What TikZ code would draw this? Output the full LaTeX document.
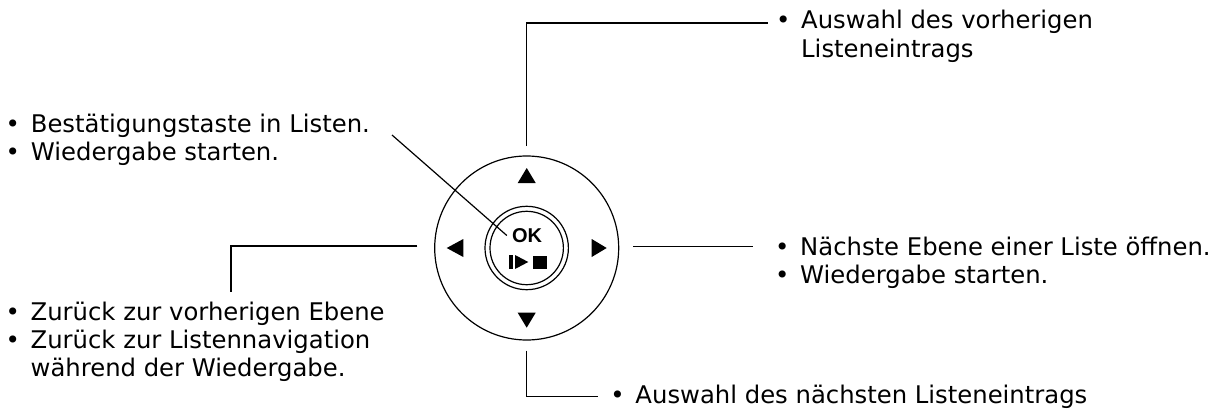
\documentclass[tikz,border=0pt]{standalone}
\usepackage{fontspec}
\setmainfont{DejaVu Sans}
\newfontfamily\okfont{Liberation Sans}
\newcommand\bul{\makebox[0pt][c]{•}\hspace{18pt}}
\newcommand\ind{\hspace{18pt}}
\begin{document}
\begin{tikzpicture}[x=1pt,y=-1pt,
  lbl/.style={anchor=base west, inner sep=0pt, font=\fontsize{24.3}{28.3}\selectfont},
  conn/.style={line width=1.2pt},
  ring/.style={circle, draw, inner sep=0pt, line width=1.2pt},
  tri/.style={fill=black, draw=none}]
\useasboundingbox (0,0) rectangle (1226,409);
% pad
\node[ring, minimum size=184pt] (pad) at (526.7,248) {};
\node[ring, minimum size=83.4pt] (okring) at (526.7,248) {};
\node[ring, minimum size=73.4pt] (okbtn) at (526.7,248) {};
\node[inner sep=0pt, font=\okfont\bfseries\fontsize{20}{20}\selectfont] (ok) at (527,235.5) {OK};
% play/stop symbols
\fill (509.3,255) rectangle (513.3,269);
\fill (515,255) -- (515,269) -- (528.3,262) -- cycle;
\fill (532.7,255.5) rectangle (546.7,269);
% direction triangles
\fill[tri] (526.7,168) -- (517.7,183) -- (535.7,183) -- cycle;
\fill[tri] (517.7,312.7) -- (535.7,312.7) -- (526.7,327.7) -- cycle;
\fill[tri] (446.7,248) -- (463.3,239) -- (463.3,257) -- cycle;
\fill[tri] (591.7,239) -- (591.7,257) -- (606.7,248) -- cycle;
% labels
\node[lbl] (ttop) at (783,29) {\begin{tabular}[t]{@{}l@{}}\bul Auswahl des vorherigen\\\ind Listeneintrags\end{tabular}};
\node[lbl] (tok) at (12.7,132.5) {\begin{tabular}[t]{@{}l@{}}\bul Bestätigungstaste in Listen.\\\bul Wiedergabe starten.\end{tabular}};
\node[lbl] (tright) at (782,255) {\begin{tabular}[t]{@{}l@{}}\bul Nächste Ebene einer Liste öffnen.\\\bul Wiedergabe starten.\end{tabular}};
\node[lbl] (tleft) at (12.5,320) {\begin{tabular}[t]{@{}l@{}}\bul Zurück zur vorherigen Ebene\\\bul Zurück zur Listennavigation\\\ind während der Wiedergabe.\end{tabular}};
\node[lbl] (tbottom) at (617.3,403.5) {\bul Auswahl des nächsten Listeneintrags};
% connectors
\coordinate (ctop) at ([yshift=9.3pt]pad.north);
\coordinate (cbot) at ([yshift=-10pt]pad.south);
\coordinate (cleft) at ([xshift=-16.7pt,yshift=2pt]pad.west);
\coordinate (cright) at ([xshift=14pt,yshift=1.3pt]pad.east);
\draw[conn] (ctop) |- ([xshift=-15pt,yshift=6pt]ttop.base west);
\draw[conn] (cbot) |- ([xshift=-19pt,yshift=7pt]tbottom.base west);
\draw[conn] (cright) -- ([xshift=-29pt,yshift=8.3pt]tright.base west);
\draw[conn] (cleft) -| ([xshift=218.5pt,yshift=28.3pt]tleft.base west);
\draw[conn] ([xshift=379.3pt,yshift=-2.5pt]tok.base west) -- ([xshift=-5pt]ok.west);
\end{tikzpicture}
\end{document}
